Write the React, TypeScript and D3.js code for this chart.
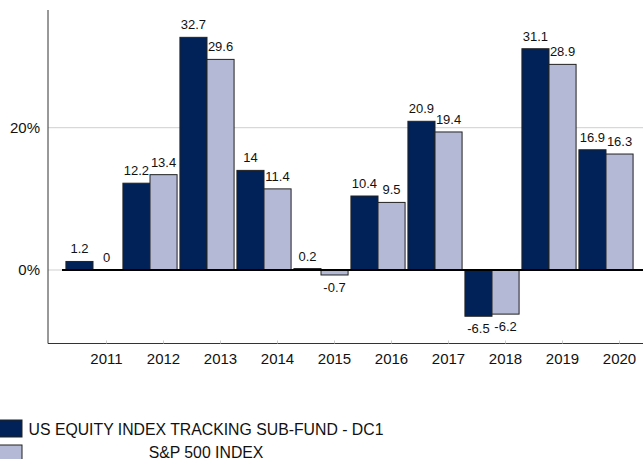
import React from "react";
import * as d3 from "d3";

const years = ["2011", "2012", "2013", "2014", "2015", "2016", "2017", "2018", "2019", "2020"];
const fundValues = [1.2, 12.2, 32.7, 14, 0.2, 10.4, 20.9, -6.5, 31.1, 16.9];
const indexValues = [0, 13.4, 29.6, 11.4, -0.7, 9.5, 19.4, -6.2, 28.9, 16.3];
const seriesNames = ["US EQUITY INDEX TRACKING SUB-FUND - DC1", "S&P 500 INDEX"];
const yTicks = [0, 20];

const W = 643;
const H = 459;
const FONT = "'Liberation Sans', Arial, sans-serif";
const DARK = "#012258";
const LIGHT = "#b4b9d5";

export default function App() {
  const axisLeft = 48;
  const axisBottom = 343.5;
  const axisTop = 10;
  const y = d3.scaleLinear().domain([0, 20]).range([270, 127.7]);
  const x = d3.scaleBand<string>().domain(years).range([64.5, 634.5]).paddingInner(0.05).paddingOuter(0.025);
  const sub = d3.scaleBand<number>().domain([0, 1]).range([0, x.bandwidth()]);
  const series = [fundValues, indexValues];
  const colors = [DARK, LIGHT];

  return (
    <svg width={W} height={H} style={{ position: "absolute", left: 0, top: 0, background: "#fff" }} fontFamily={FONT}>
      {yTicks.map((t) => (
        <line key={"g" + t} x1={axisLeft} x2={W} y1={y(t)} y2={y(t)} stroke="#cfcfcf" strokeWidth={1} />
      ))}
      {yTicks.map((t) => (
        <text key={"yl" + t} x={40} y={y(t) + 5} textAnchor="end" fontSize={15} fill="#111">
          {t}%
        </text>
      ))}
      {years.map((yr, i) => (
        <g key={yr}>
          {series.map((vals, s) => {
            const v = vals[i];
            const bx = (x(yr) as number) + (sub(s) as number);
            const y0 = y(Math.max(0, v));
            const y1 = y(Math.min(0, v));
            return (
              <rect
                key={s}
                x={bx}
                y={y0}
                width={sub.bandwidth()}
                height={Math.max(0, y1 - y0)}
                fill={colors[s]}
                stroke="#222"
                strokeWidth={1}
              />
            );
          })}
        </g>
      ))}
      <line x1={62} x2={W} y1={y(0)} y2={y(0)} stroke="#000" strokeWidth={2} />
      {years.map((yr, i) => (
        <g key={"l" + yr}>
          {series.map((vals, s) => {
            const v = vals[i];
            const cx = (x(yr) as number) + (sub(s) as number) + sub.bandwidth() / 2;
            const ty = v >= 0 ? y(v) - 8 : y(v) + 17;
            return (
              <text key={s} x={cx} y={ty} textAnchor="middle" fontSize={13} fill="#111">
                {String(v)}
              </text>
            );
          })}
        </g>
      ))}
      <line x1={axisLeft} x2={axisLeft} y1={axisTop} y2={axisBottom} stroke="#333" strokeWidth={1} />
      <line x1={axisLeft} x2={W} y1={axisBottom} y2={axisBottom} stroke="#333" strokeWidth={1} />
      {years.map((yr) => {
        const tx = (x(yr) as number) + x.bandwidth() / 2 + 13.5;
        return (
          <g key={"xt" + yr}>
            <line x1={tx} x2={tx} y1={axisBottom - 3} y2={axisBottom} stroke="#ccc" strokeWidth={1} />
            <text x={tx} y={axisBottom + 20} textAnchor="middle" fontSize={15} fill="#111">
              {yr}
            </text>
          </g>
        );
      })}
      {seriesNames.map((name, s) => (
        <g key={"lg" + s}>
          <rect x={-1} y={420 + s * 25} width={23} height={17} fill={colors[s]} stroke="#222" strokeWidth={1} />
          <text x={206} y={435 + s * 22.5} textAnchor="middle" fontSize={15.8} fill="#111">
            {name}
          </text>
        </g>
      ))}
    </svg>
  );
}
